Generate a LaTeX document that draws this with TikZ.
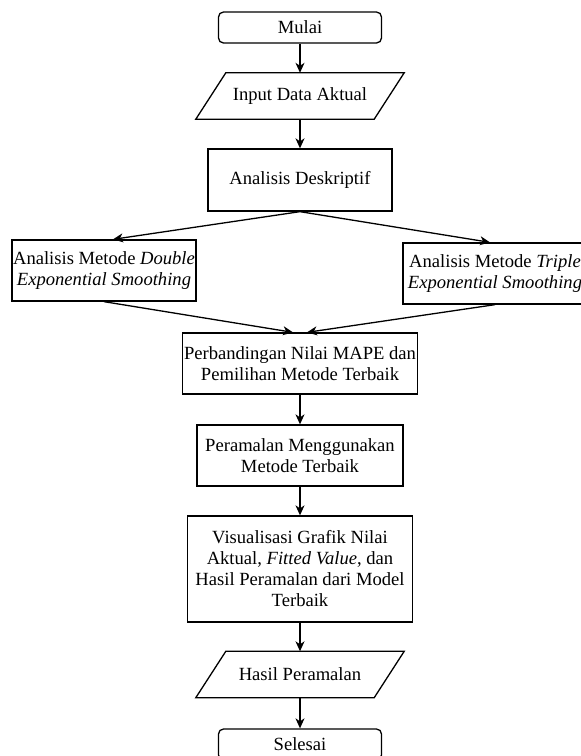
\documentclass[tikz,border=0pt]{standalone}
\usepackage{fontspec}
\setmainfont{Liberation Serif}
\usetikzlibrary{arrows.meta,calc}
\begin{document}
\begin{tikzpicture}[x=1pt,y=-1pt,
  every node/.style={font=\fontsize{18.6}{21}\selectfont, align=center, inner sep=0pt},
  proc/.style={draw, line width=1.3pt, minimum height=61pt},
  term/.style={draw, line width=1.3pt, rounded corners=5pt, minimum width=163pt, minimum height=31pt},
  io/.style={minimum width=208pt, minimum height=46pt},
  iobox/.style={draw, line width=1.3pt, line join=miter},
  flow/.style={line width=1.3pt, -{Stealth[length=10pt,width=9pt,inset=3pt]}}
  ]
\useasboundingbox (0,0) rectangle (581,756);

\node[term] (mulai) at (300,27.5) {Mulai};
\node[io] (input) at (300,96) {Input Data Aktual};
\draw[iobox] ($(input.north west)+(30,0)$) -- (input.north east) -- ($(input.south east)+(-30,0)$) -- (input.south west) -- cycle;
\node[proc, minimum width=184pt, minimum height=62pt] (desk) at (300,180) {Analisis Deskriptif};
\node[proc, minimum width=184pt] (des) at (104,270.5) {Analisis Metode \textit{Double}\\\textit{Exponential Smoothing}};
\node[proc, minimum width=184pt] (tes) at (495,273.5) {Analisis Metode \textit{Triple}\\\textit{Exponential Smoothing}};
\node[proc, minimum width=235pt] (perb) at (300,363.5) {Perbandingan Nilai MAPE dan\\Pemilihan Metode Terbaik};
\node[proc, minimum width=206pt] (peram) at (300,455.5) {Peramalan Menggunakan\\Metode Terbaik};
\node[proc, minimum width=225pt, minimum height=106pt] (vis) at (300,569) {Visualisasi Grafik Nilai\\Aktual, \textit{Fitted Value}, dan\\Hasil Peramalan dari Model\\Terbaik};
\node[io] (hasil) at (300,674.5) {Hasil Peramalan};
\draw[iobox] ($(hasil.north west)+(30,0)$) -- (hasil.north east) -- ($(hasil.south east)+(-30,0)$) -- (hasil.south west) -- cycle;
\node[term] (selesai) at (300,744.5) {Selesai};

\draw[flow] (mulai.south) -- (mulai.south |- input.north);
\draw[flow] (input.south) -- (input.south |- desk.north);
\draw[flow] (desk.south) -- ($(des.north)+(9,0)$);
\draw[flow] (desk.south) -- ($(tes.north)+(-5,0)$);
\draw[flow] (des.south) -- ($(perb.north)+(-7,0)$);
\draw[flow] (tes.south) -- ($(perb.north)+(7,0)$);
\draw[flow] (perb.south) -- (perb.south |- peram.north);
\draw[flow] (peram.south) -- (peram.south |- vis.north);
\draw[flow] (vis.south) -- (vis.south |- hasil.north);
\draw[flow] (hasil.south) -- (hasil.south |- selesai.north);
\end{tikzpicture}
\end{document}
